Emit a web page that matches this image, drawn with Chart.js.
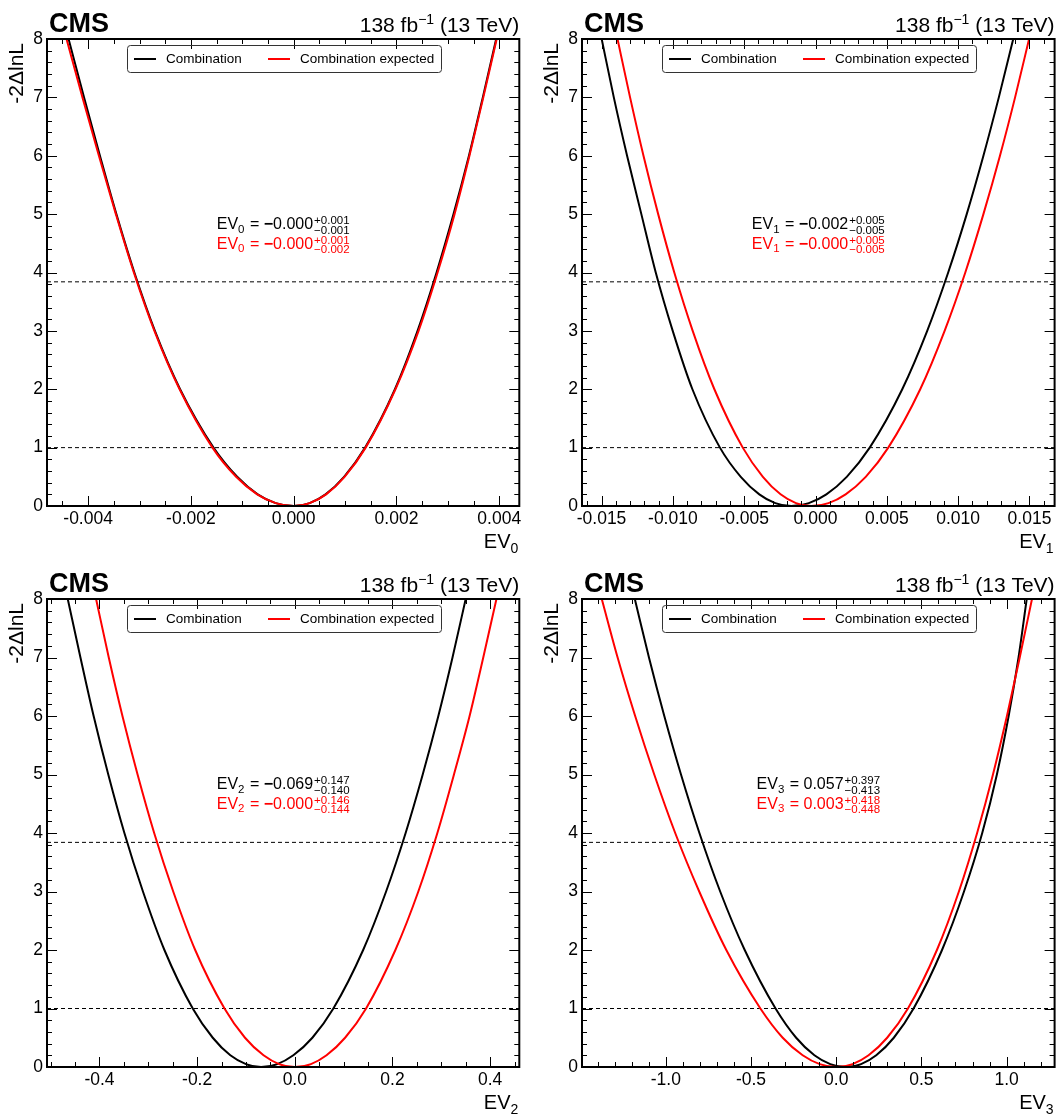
<!DOCTYPE html>
<html><head><meta charset="utf-8">
<script src="https://cdn.jsdelivr.net/npm/chart.js@4.4.1/dist/chart.umd.min.js"></script>
<style>
html,body{margin:0;padding:0;background:#fff;}
#wrap{position:relative;width:1057px;height:1115px;overflow:hidden;background:#fff}
canvas{position:absolute}
</style></head><body><div id="wrap">
<canvas id="c0"></canvas><canvas id="c1"></canvas><canvas id="c2"></canvas><canvas id="c3"></canvas>
</div>
<script>
// ---------------- data ----------------
const yLevels = [8,7,6,5,4,3,2,1,0.5,0.2,0.05,0,0.05,0.2,0.5,1,2,3,4,5,6,7,8];

const ev0Observed = [-0.00438,-0.00408,-0.00377,-0.00345,-0.00310,-0.00270,-0.00221,-0.00156,-0.00110,-0.00070,-0.00035,0,0.00031,0.00062,0.00098,0.00139,0.00197,0.00241,0.00278,0.00311,0.00341,0.00368,0.00394];
const ev0Expected = [-0.00442,-0.00411,-0.00379,-0.00346,-0.00311,-0.00271,-0.00222,-0.00158,-0.00112,-0.00071,-0.00035,0,0.00031,0.00063,0.00099,0.00140,0.00198,0.00243,0.00280,0.00313,0.00342,0.00369,0.00395];

const ev1Observed = [-0.01499,-0.01414,-0.01321,-0.01221,-0.01120,-0.01001,-0.00863,-0.00670,-0.00524,-0.00394,-0.00282,-0.0017,-0.00047,0.00076,0.00219,0.00380,0.00608,0.00783,0.00930,0.01060,0.01177,0.01285,0.01386];
const ev1Expected = [-0.01388,-0.01300,-0.01206,-0.01103,-0.00990,-0.00861,-0.00709,-0.00510,-0.00369,-0.00245,-0.00137,-0.0003,0.00091,0.00211,0.00352,0.00510,0.00734,0.00905,0.01050,0.01177,0.01293,0.01399,0.01497];

const ev2Observed = [-0.465,-0.439,-0.412,-0.382,-0.349,-0.311,-0.267,-0.209,-0.168,-0.132,-0.100,-0.069,-0.036,-0.003,0.036,0.079,0.140,0.187,0.227,0.262,0.294,0.323,0.350];
const ev2Expected = [-0.407,-0.381,-0.353,-0.322,-0.288,-0.249,-0.204,-0.144,-0.102,-0.064,-0.032,0,0.033,0.065,0.103,0.146,0.206,0.253,0.292,0.326,0.358,0.386,0.413];

const ev3Observed = [-1.182,-1.099,-1.009,-0.911,-0.803,-0.681,-0.537,-0.356,-0.235,-0.128,-0.035,0.057,0.146,0.235,0.338,0.454,0.621,0.750,0.857,0.943,1.012,1.070,1.118];
const ev3Expected = [-1.376,-1.283,-1.180,-1.068,-0.945,-0.804,-0.645,-0.445,-0.314,-0.197,-0.097,0.003,0.096,0.190,0.299,0.421,0.591,0.720,0.827,0.920,1.002,1.077,1.149];

const thresholds = [1, 3.84];
const seriesLabels = ["Combination", "Combination expected"];

const yTicks = [0,1,2,3,4,5,6,7,8];
const yTickLabels = ["0","1","2","3","4","5","6","7","8"];

const ev0Range = [-0.0048, 0.00439];
const ev1Range = [-0.01637, 0.01676];
const ev2Range = [-0.5075, 0.4598];
const ev3Range = [-1.492, 1.2817];

const ev0Ticks = [-0.004,-0.002,0,0.002,0.004];
const ev0TickLabels = ["-0.004","-0.002","0.000","0.002","0.004"];
const ev1Ticks = [-0.015,-0.010,-0.005,0,0.005,0.010,0.015];
const ev1TickLabels = ["-0.015","-0.010","-0.005","0.000","0.005","0.010","0.015"];
const ev2Ticks = [-0.4,-0.2,0,0.2,0.4];
const ev2TickLabels = ["-0.4","-0.2","0.0","0.2","0.4"];
const ev3Ticks = [-1.0,-0.5,0,0.5,1.0];
const ev3TickLabels = ["-1.0","-0.5","0.0","0.5","1.0"];

// best fit texts: [sign, value, up, down]
const ev0ObsText = ["−","0.000","+0.001","−0.001"];
const ev0ExpText = ["−","0.000","+0.001","−0.002"];
const ev1ObsText = ["−","0.002","+0.005","−0.005"];
const ev1ExpText = ["−","0.000","+0.005","−0.005"];
const ev2ObsText = ["−","0.069","+0.147","−0.140"];
const ev2ExpText = ["−","0.000","+0.146","−0.144"];
const ev3ObsText = ["","0.057","+0.397","−0.413"];
const ev3ExpText = ["","0.003","+0.418","−0.448"];

// ---------------- layout ----------------
const FONT = "'Liberation Sans', Arial, Helvetica, sans-serif";
function fnt(size, bold){ return (bold ? 'bold ' : '') + size + 'px ' + FONT; }

const panels = [
  {id:'c0', left:0,   top:0,   w:530, h:560, L:47, T:39, R:519.3, B:506, idx:'0', range:ev0Range, ticks:ev0Ticks, labels:ev0TickLabels, minor:0.0005, obs:ev0Observed, exp:ev0Expected, annObs:ev0ObsText, annExp:ev0ExpText},
  {id:'c1', left:535, top:0,   w:522, h:560, L:47, T:39, R:519.6, B:506, idx:'1', range:ev1Range, ticks:ev1Ticks, labels:ev1TickLabels, minor:0.001, obs:ev1Observed, exp:ev1Expected, annObs:ev1ObsText, annExp:ev1ExpText},
  {id:'c2', left:0,   top:560, w:530, h:555, L:47, T:39, R:519.3, B:507, idx:'2', range:ev2Range, ticks:ev2Ticks, labels:ev2TickLabels, minor:0.05, obs:ev2Observed, exp:ev2Expected, annObs:ev2ObsText, annExp:ev2ExpText},
  {id:'c3', left:535, top:560, w:522, h:555, L:47, T:39, R:519.6, B:507, idx:'3', range:ev3Range, ticks:ev3Ticks, labels:ev3TickLabels, minor:0.1, obs:ev3Observed, exp:ev3Expected, annObs:ev3ObsText, annExp:ev3ExpText}
];

function richWidth(ctx, parts){
  let w = 0;
  for (const p of parts){
    if (p.sup !== undefined){
      ctx.font = fnt(p.size);
      p.w = Math.max(ctx.measureText(p.sup).width, ctx.measureText(p.sub).width);
    } else {
      ctx.font = fnt(p.size, p.bold);
      p.w = ctx.measureText(p.t).width;
    }
    w += p.w + (p.gap || 0);
  }
  return w;
}
function drawRich(ctx, parts, x, y, align, color){
  const w = richWidth(ctx, parts);
  let cx = align === 'center' ? x - w/2 : (align === 'right' ? x - w : x);
  ctx.fillStyle = color; ctx.textAlign = 'left'; ctx.textBaseline = 'alphabetic';
  for (const p of parts){
    cx += p.gap || 0;
    if (p.sup !== undefined){
      ctx.font = fnt(p.size);
      ctx.fillText(p.sup, cx, y + p.supDy);
      ctx.fillText(p.sub, cx, y + p.subDy);
    } else {
      ctx.font = fnt(p.size, p.bold);
      ctx.fillText(p.t, cx, y + (p.dy || 0));
    }
    cx += p.w;
  }
}
function annParts(idx, t){
  const parts = [{t:'EV', size:16}, {t:idx, size:11.5, dy:3.5}, {t:' = ', size:16, gap:1}];
  if (t[0]) parts.push({t:t[0], size:16, bold:true});
  parts.push({t:t[1], size:16});
  parts.push({sup:t[2], sub:t[3], size:11.5, supDy:-5, subDy:4.5, gap:1});
  return parts;
}

const decor = {
  id:'decor',
  afterDraw(chart, args, opts){
    const p = opts.panel;
    const ctx = chart.ctx;
    const a = chart.chartArea;
    const xs = chart.scales.x, ys = chart.scales.y;
    ctx.save();
    // ticks (inward, all four sides)
    ctx.strokeStyle = '#000'; ctx.lineWidth = 1;
    const majX = p.ticks, majY = yTicks;
    const isMajor = (v, arr, step) => arr.some(m => Math.abs(m - v) < step * 0.01);
    ctx.beginPath();
    const k0 = Math.ceil(xs.min / p.minor - 1e-9), k1 = Math.floor(xs.max / p.minor + 1e-9);
    for (let k = k0; k <= k1; k++){
      const v = k * p.minor;
      const px = Math.round(xs.getPixelForValue(v)) + 0.5;
      const len = isMajor(v, majX, p.minor) ? 10 : 5;
      ctx.moveTo(px, a.bottom); ctx.lineTo(px, a.bottom - len);
      ctx.moveTo(px, a.top); ctx.lineTo(px, a.top + len);
    }
    const ystep = 0.2;
    for (let k = 0; k <= 40; k++){
      const v = k * ystep;
      if (v > ys.max + 1e-9) break;
      const py = Math.round(ys.getPixelForValue(v)) + 0.5;
      const len = isMajor(v, majY, ystep) ? 10 : 5;
      ctx.moveTo(a.left, py); ctx.lineTo(a.left + len, py);
      ctx.moveTo(a.right, py); ctx.lineTo(a.right - len, py);
    }
    ctx.stroke();
    // frame
    ctx.lineWidth = 2;
    ctx.strokeRect(a.left, a.top, a.right - a.left, a.bottom - a.top);

    // CMS
    ctx.fillStyle = '#000'; ctx.textBaseline = 'alphabetic'; ctx.textAlign = 'left';
    ctx.font = fnt(27, true);
    ctx.fillText('CMS', a.left + 2, a.top - 7);
    // lumi
    drawRich(ctx, [{t:'138 fb', size:21}, {t:'−1', size:14, dy:-8}, {t:' (13 TeV)', size:21}], a.right, a.top - 7, 'right', '#000');

    // y title
    ctx.save();
    ctx.translate(17, a.top + 4);
    ctx.rotate(-Math.PI/2);
    ctx.font = fnt(21); ctx.textAlign = 'right'; ctx.textBaseline = 'middle'; ctx.fillStyle = '#000';
    ctx.fillText('-2ΔlnL', 0, 0);
    ctx.restore();
    // x title
    drawRich(ctx, [{t:'EV', size:20}, {t:p.idx, size:14, dy:5}], a.right - 1, a.bottom + 42, 'right', '#000');

    // legend
    const lx = a.left + 80, ly = a.top + 6, lw = 314, lh = 27;
    ctx.lineWidth = 1; ctx.strokeStyle = '#333';
    ctx.beginPath();
    if (ctx.roundRect) ctx.roundRect(lx + 0.5, ly + 0.5, lw, lh, 3); else ctx.rect(lx + 0.5, ly + 0.5, lw, lh);
    ctx.stroke();
    const cy = ly + lh/2 + 0.5;
    const ds = chart.data.datasets;
    const entries = [{d:ds[0], x:lx + 7}, {d:ds[1], x:lx + 141}];
    for (const e of entries){
      ctx.strokeStyle = e.d.borderColor; ctx.lineWidth = 2;
      ctx.beginPath(); ctx.moveTo(e.x, cy); ctx.lineTo(e.x + 22, cy); ctx.stroke();
      ctx.fillStyle = '#000'; ctx.font = fnt(13.5); ctx.textAlign = 'left'; ctx.textBaseline = 'middle';
      ctx.fillText(e.d.label, e.x + 32, cy);
    }

    // best-fit annotations
    const mx = (a.left + a.right) / 2;
    drawRich(ctx, annParts(p.idx, p.annObs), mx, a.top + 190, 'center', '#000');
    drawRich(ctx, annParts(p.idx, p.annExp), mx, a.top + 209.5, 'center', '#ff0000');
    ctx.restore();
  }
};

function pts(xArr){ return xArr.map((x, i) => ({x: x, y: yLevels[i]})); }

for (const p of panels){
  const cv = document.getElementById(p.id);
  cv.width = p.w; cv.height = p.h;
  cv.style.left = p.left + 'px'; cv.style.top = p.top + 'px';
  cv.style.width = p.w + 'px'; cv.style.height = p.h + 'px';
  const dashed = thresholds.map(t => ({
    label:'', data:[{x:p.range[0], y:t}, {x:p.range[1], y:t}], showLine:true,
    borderColor:'#000', borderWidth:1, borderDash:[4,3], pointRadius:0, order:3
  }));
  new Chart(cv, {
    type:'scatter',
    data:{datasets:[
      {label:seriesLabels[0], data:pts(p.obs), showLine:true, borderColor:'#000000', borderWidth:2, pointRadius:0, cubicInterpolationMode:'monotone', order:2},
      {label:seriesLabels[1], data:pts(p.exp), showLine:true, borderColor:'#ff0000', borderWidth:2, pointRadius:0, cubicInterpolationMode:'monotone', order:1},
      ...dashed
    ]},
    options:{
      responsive:false, animation:false, devicePixelRatio:1,
      layout:{padding:{left:0, top:p.T, right:p.w - p.R, bottom:0}},
      plugins:{legend:{display:false}, tooltip:{enabled:false}, decor:{panel:p}},
      scales:{
        x:{type:'linear', min:p.range[0], max:p.range[1],
           afterFit:s => { s.height = p.h - p.B; },
           afterBuildTicks:s => { s.ticks = p.ticks.map(v => ({value:v})); },
           ticks:{callback:(v, i) => p.labels[i], font:{family:FONT, size:17.5}, color:'#000', padding:3, maxRotation:0, autoSkip:false},
           grid:{display:false, drawTicks:false}, border:{display:false}},
        y:{type:'linear', min:0, max:8,
           afterFit:s => { s.width = p.L; },
           afterBuildTicks:s => { s.ticks = yTicks.map(v => ({value:v})); },
           ticks:{callback:(v, i) => yTickLabels[i], font:{family:FONT, size:17.5}, color:'#000', padding:4, autoSkip:false},
           grid:{display:false, drawTicks:false}, border:{display:false}}
      }
    },
    plugins:[decor]
  });
}
</script></body></html>
